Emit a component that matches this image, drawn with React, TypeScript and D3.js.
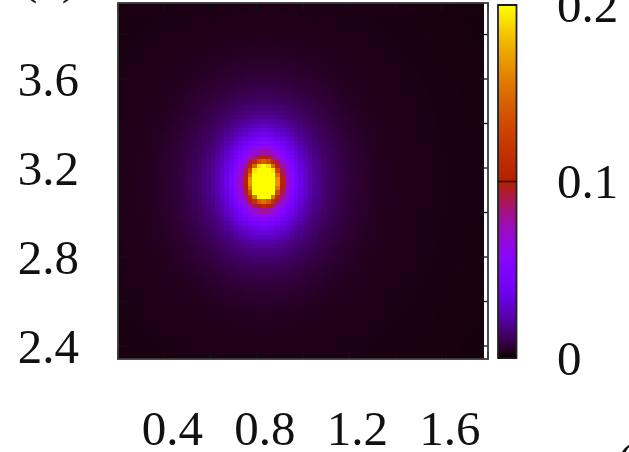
import React from "react";
import * as d3 from "d3";

// Axis ranges and ticks
const xDomain = [0.2, 1.8];
const yDomain = [2.3416, 3.9416];
const xTickValues = [0.2, 0.4, 0.6, 0.8, 1.0, 1.2, 1.4, 1.6, 1.8];
const yTickValues = [2.4, 2.6, 2.8, 3.0, 3.2, 3.4, 3.6, 3.8];
const xTickLabels = [0.4, 0.8, 1.2, 1.6];
const yTickLabels = [2.4, 2.8, 3.2, 3.6];
const cbDomain = [0, 0.2];
const cbTickLabels = [0, 0.1, 0.2];

// Density field on the grid: a peak made of nested elliptical Gaussian parts
const gridStep = 0.02;
const gridXEnd = 1.78;
const peakCenter = [0.83, 3.14];
const peakAmplitude = [0.35, 0.08, 0.025, 0.003];
const peakWidthX = [0.0346, 0.0865, 0.1946, 0.562];
const peakWidthY = [0.0478, 0.1196, 0.2427, 0.643];
const baseLevel = 0.0012;

// gnuplot default palette (rgbformulae 7,5,15)
function palette(t: number): string {
  const x = Math.max(0, Math.min(1, t));
  const r = Math.sqrt(x);
  const g = x * x * x;
  const b = Math.max(0, Math.sin(2 * Math.PI * x));
  return d3.rgb(r * 255, g * 255, b * 255).formatHex();
}

function density(x: number, y: number): number {
  let v = baseLevel;
  for (let i = 0; i < peakAmplitude.length; i++) {
    const dx = (x - peakCenter[0]) / peakWidthX[i];
    const dy = (y - peakCenter[1]) / peakWidthY[i];
    v += peakAmplitude[i] * Math.exp(-0.5 * (dx * dx + dy * dy));
  }
  return v;
}

const W = 629;
const H = 452;
const plot = { left: 118, right: 488, top: 3, bottom: 359 };
const bar = { left: 498, right: 516.5, top: 5, bottom: 358 };
const FONT = "'Liberation Serif', 'Times New Roman', serif";
const FS = 49;

export default function App() {
  const x = d3.scaleLinear().domain(xDomain).range([plot.left, plot.right]);
  const y = d3.scaleLinear().domain(yDomain).range([plot.bottom, plot.top]);
  const cbY = d3.scaleLinear().domain(cbDomain).range([bar.bottom, bar.top]);
  const colorOf = (v: number) => palette((v - cbDomain[0]) / (cbDomain[1] - cbDomain[0]));

  const nx = Math.round((gridXEnd - xDomain[0]) / gridStep);
  const ny = Math.ceil((yDomain[1] - yDomain[0]) / gridStep);
  const cells: React.ReactElement[] = [];
  for (let i = 0; i < nx; i++) {
    const x0 = xDomain[0] + i * gridStep;
    const x1 = x0 + gridStep;
    for (let j = 0; j < ny; j++) {
      const y0 = yDomain[0] + j * gridStep;
      const y1 = Math.min(y0 + gridStep, yDomain[1]);
      const v = density(x0 + gridStep / 2, y0 + gridStep / 2);
      const px0 = x(x0);
      const py1 = y(y1);
      cells.push(
        <rect
          key={`${i}-${j}`}
          x={px0}
          y={py1}
          width={x(x1) - px0 + 0.4}
          height={y(y0) - py1 + 0.4}
          fill={colorOf(v)}
        />
      );
    }
  }

  const stops = d3.range(0, 1.0001, 0.02).map((t) => (
    <stop key={t} offset={`${t * 100}%`} stopColor={palette(1 - t)} />
  ));

  const tickLen = 8;

  return (
    <svg width={W} height={H} style={{ position: "absolute", left: 0, top: 0, background: "#fff" }}>
      <defs>
        <linearGradient id="cbGrad" x1="0" y1="0" x2="0" y2="1">
          {stops}
        </linearGradient>
        <clipPath id="plotClip">
          <rect x={plot.left} y={plot.top} width={plot.right - plot.left} height={plot.bottom - plot.top} />
        </clipPath>
      </defs>

      <g clipPath="url(#plotClip)" shapeRendering="crispEdges">{cells}</g>

      {/* ticks on all four sides */}
      <g stroke="#111" strokeWidth={1.3}>
        {xTickValues.map((v) => (
          <g key={`xt${v}`}>
            <line x1={x(v)} x2={x(v)} y1={plot.bottom} y2={plot.bottom - tickLen} />
            <line x1={x(v)} x2={x(v)} y1={plot.top} y2={plot.top + tickLen} />
          </g>
        ))}
        {yTickValues.map((v) => (
          <g key={`yt${v}`}>
            <line x1={plot.left} x2={plot.left + tickLen} y1={y(v)} y2={y(v)} />
            <line x1={plot.right} x2={plot.right - tickLen} y1={y(v)} y2={y(v)} />
          </g>
        ))}
      </g>

      <rect
        x={plot.left}
        y={plot.top}
        width={plot.right - plot.left}
        height={plot.bottom - plot.top}
        fill="none"
        stroke="#3a3a3a"
        strokeWidth={1.8}
      />

      {/* colour box */}
      <rect
        x={bar.left}
        y={bar.top}
        width={bar.right - bar.left}
        height={bar.bottom - bar.top}
        fill="url(#cbGrad)"
        stroke="#222"
        strokeWidth={1.8}
      />
      {cbTickLabels.map((v) => (
        <line key={`cbt${v}`} x1={bar.left} x2={bar.right} y1={cbY(v)} y2={cbY(v)} stroke="#111" strokeWidth={1.5} />
      ))}

      <g fontFamily={FONT} fontSize={FS} fill="#111">
        {yTickLabels.map((v) => (
          <text key={`yl${v}`} x={79} y={y(v)} dy="0.34em" textAnchor="end">
            {v.toFixed(1)}
          </text>
        ))}
        {xTickLabels.map((v) => (
          <text key={`xl${v}`} x={x(v) + 8} y={445} textAnchor="middle">
            {v.toFixed(1)}
          </text>
        ))}
        {cbTickLabels.map((v) => (
          <text key={`cl${v}`} x={557} y={cbY(v)} dy="0.34em">
            {v === 0 ? "0" : v.toFixed(1)}
          </text>
        ))}
        <text x={21} y={-7}>(b)</text>
        <text x={617} y={477}>(c)</text>
      </g>
    </svg>
  );
}
